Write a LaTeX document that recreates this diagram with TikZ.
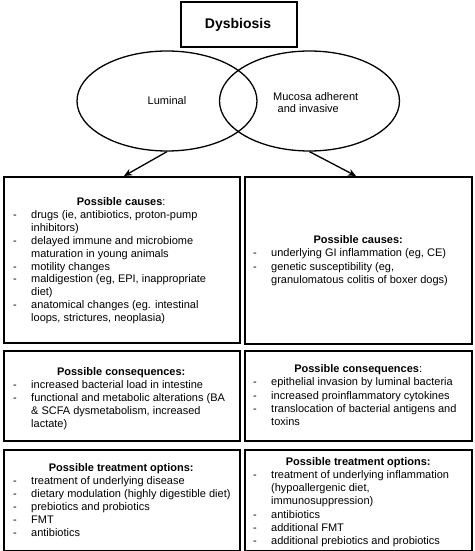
\documentclass[tikz,border=0pt]{standalone}
\usepackage{fontspec}
\setmainfont{Liberation Sans}
\usetikzlibrary{shapes.geometric,arrows.meta}
\newcommand\itm[1]{\makebox[18pt][l]{-}#1}
\newcommand\cnt[1]{\hspace*{18pt}#1}
\newcommand\ttl[2]{\makebox[#1][c]{\bfseries #2}}
\begin{document}
\begin{tikzpicture}[x=1pt,y=-1pt,
  box/.style={draw,line width=1.6pt,inner sep=0pt,anchor=north west},
  oval/.style={draw,ellipse,line width=1.3pt,inner sep=0pt,minimum width=180pt,minimum height=100pt},
  txt/.style={anchor=base west,align=left,inner sep=0pt},
  arr/.style={line width=1.3pt,-{Stealth[length=8pt,width=7pt]}}]
\useasboundingbox[fill=white] (0,0) rectangle (474,551);
% title
\node[box,minimum width=116pt,minimum height=45pt] (dys) at (180,1) {};
\node[font=\fontsize{14}{16}\selectfont\bfseries] (dyst) at (238,25) {Dysbiosis};
% ellipses
\node[oval] (L) at (167,101) {};
\node[oval] (R) at (309.5,101) {};
\node[font=\fontsize{11}{13}\selectfont] (Lt) at (167,101) {Luminal};
\node[font=\fontsize{11}{12}\selectfont,align=left,anchor=west,inner sep=0pt] (Rt) at (273,103) {Mucosa adherent\\\hspace*{4.5pt}and invasive};
% boxes
\node[box,minimum width=236pt,minimum height=166pt] (b1) at (3,176) {};
\node[box,minimum width=227pt,minimum height=167pt] (b2) at (244,176) {};
\node[box,minimum width=236pt,minimum height=90pt] (b3) at (3,350) {};
\node[box,minimum width=227pt,minimum height=90pt] (b4) at (244,350) {};
\node[box,minimum width=236pt,minimum height=101pt] (b5) at (3,449) {};
\node[box,minimum width=227pt,minimum height=101pt] (b6) at (244,449) {};
% arrows
\coordinate (t1) at (124,176);
\coordinate (t2) at (356,176);
\draw[arr] (L.south) -- (t1);
\draw[arr] (R.south) -- (t2);
% texts (anchored at the baseline of the last line)
\node[txt,font=\fontsize{11}{12.9}\selectfont] (x1) at (13,321.6) {%
\ttl{216pt}{Possible causes\mdseries:}\\
\itm{drugs (ie, antibiotics, proton-pump}\\
\cnt{inhibitors)}\\
\itm{delayed immune and microbiome}\\
\cnt{maturation in young animals}\\
\itm{motility changes}\\
\itm{maldigestion (eg, EPI, inappropriate}\\
\cnt{diet)}\\
\itm{anatomical changes (eg. intestinal}\\
\cnt{loops, strictures, neoplasia)}};
\node[txt,font=\fontsize{11}{13.3}\selectfont] (x2) at (253,283.4) {%
\ttl{210pt}{Possible causes:}\\
\itm{underlying GI inflammation (eg, CE)}\\
\itm{genetic susceptibility (eg,}\\
\cnt{granulomatous colitis of boxer dogs)}};
\node[txt,font=\fontsize{11}{13}\selectfont] (x3) at (13,427.5) {%
\ttl{216pt}{Possible consequences:}\\
\itm{increased bacterial load in intestine}\\
\itm{functional and metabolic alterations (BA}\\
\cnt{\& SCFA dysmetabolism, increased}\\
\cnt{lactate)}};
\node[txt,font=\fontsize{11}{13.25}\selectfont] (x4) at (253,425.5) {%
\ttl{210pt}{Possible consequences\mdseries:}\\
\itm{epithelial invasion by luminal bacteria}\\
\itm{increased proinflammatory cytokines}\\
\itm{translocation of bacterial antigens and}\\
\cnt{toxins}};
\node[txt,font=\fontsize{11}{13}\selectfont] (x5) at (13,536.5) {%
\ttl{216pt}{Possible treatment options:}\\
\itm{treatment of underlying disease}\\
\itm{dietary modulation (highly digestible diet)}\\
\itm{prebiotics and probiotics}\\
\itm{FMT}\\
\itm{antibiotics}};
\node[txt,font=\fontsize{11}{13.15}\selectfont] (x6) at (253,544.4) {%
\ttl{210pt}{Possible treatment options:}\\
\itm{treatment of underlying inflammation}\\
\cnt{(hypoallergenic diet,}\\
\cnt{immunosuppression)}\\
\itm{antibiotics}\\
\itm{additional FMT}\\
\itm{additional prebiotics and probiotics}};
\end{tikzpicture}
\end{document}
